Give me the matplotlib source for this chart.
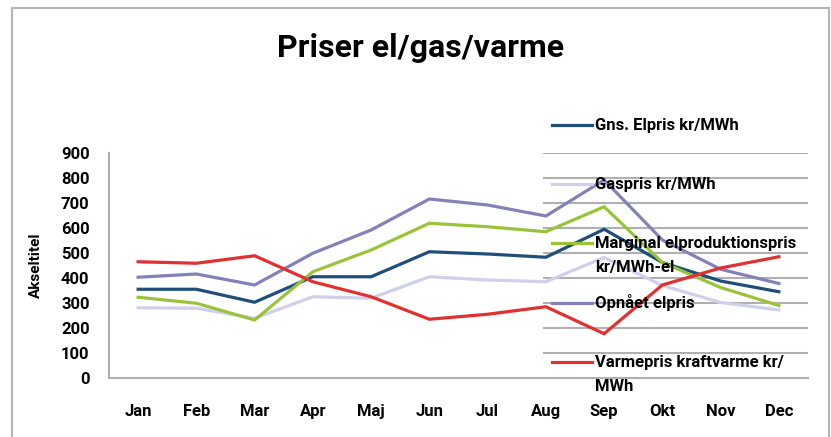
import matplotlib
matplotlib.use("Agg")
import matplotlib.pyplot as plt
from matplotlib.patches import Rectangle
from matplotlib.lines import Line2D

months = ["Jan", "Feb", "Mar", "Apr", "Maj", "Jun", "Jul", "Aug", "Sep", "Okt", "Nov", "Dec"]
gns_elpris = [355, 355, 303, 405, 405, 505, 496, 483, 595, 462, 388, 345]
gaspris = [281, 279, 239, 325, 319, 405, 392, 385, 482, 370, 302, 272]
marginal = [323, 299, 232, 425, 512, 619, 605, 585, 685, 462, 362, 290]
opnaaet = [403, 416, 372, 499, 592, 716, 692, 648, 792, 552, 435, 378]
varmepris = [465, 459, 489, 385, 325, 235, 255, 285, 177, 372, 440, 485]

series_names = ["Gns. Elpris kr/MWh", "Gaspris kr/MWh",
                "Marginal elproduktionspris\nkr/MWh-el", "Opnået elpris",
                "Varmepris kraftvarme kr/\nMWh"]
series_values = [gns_elpris, gaspris, marginal, opnaaet, varmepris]
series_colors = ["#1F4E7A", "#D0D0EC", "#9BC33A", "#8282B8", "#E03030"]
yticks = [0, 100, 200, 300, 400, 500, 600, 700, 800, 900]

plt.rcParams['font.family'] = ['Roboto', 'DejaVu Sans']

W, H = 831, 437
fig = plt.figure(figsize=(W / 100, H / 100), dpi=100)

def fx(px):
    return px / W

def fy(py):
    return 1 - py / H

# outer chart frame
fig.add_artist(Rectangle((fx(12), -0.05), fx(829) - fx(12), fy(8) + 0.05,
                         transform=fig.transFigure, fill=False,
                         edgecolor="#B4B4B4", lw=1.5))

ax = fig.add_axes([fx(109), fy(378), fx(808) - fx(109), fy(153) - fy(378)])
x = list(range(len(months)))

# gridlines (visible only at the right side, behind legend)
ax.hlines(yticks[1:], 0.621, 1.0, transform=ax.get_yaxis_transform(),
          colors="#B0B0B0", lw=1.5, zorder=1)

for vals, col in zip(series_values, series_colors):
    ax.plot(x, vals, color=col, lw=2.3, zorder=3, solid_joinstyle='miter')

ax.set_xlim(-0.5, len(months) - 0.5)
ax.set_ylim(0, 900)
ax.set_yticks(yticks)
ax.set_yticklabels([str(v) for v in yticks], fontweight='bold', fontsize=12)
ax.set_xticks(x)
ax.set_xticklabels(months, fontweight='bold', fontsize=12)
ax.tick_params(axis='both', length=0)
ax.tick_params(axis='y', pad=14)
ax.tick_params(axis='x', pad=19)
for s in ['top', 'right']:
    ax.spines[s].set_visible(False)
for s in ['left', 'bottom']:
    ax.spines[s].set_color("#B0B0B0")
    ax.spines[s].set_linewidth(1.5)

fig.text(fx(36), fy(265), "Akseltitel", rotation=90, ha='center', va='center',
         fontweight='bold', fontsize=11)

fig.text(fx(421), fy(48), "Priser el/gas/varme", ha='center', va='center',
         fontweight='bold', fontsize=23)

# legend
for i, (name, col) in enumerate(zip(series_names, series_colors)):
    yc = 125 + 59.2 * i
    fig.add_artist(Line2D([fx(552), fx(592)], [fy(yc), fy(yc)], color=col, lw=2.3,
                          transform=fig.transFigure))
    for j, line in enumerate(name.split("\n")):
        fig.text(fx(595), fy(yc + 24 * j + 5), line, ha='left', va='baseline',
                 fontweight='bold', fontsize=12)

fig.savefig("out.png", dpi=100)
